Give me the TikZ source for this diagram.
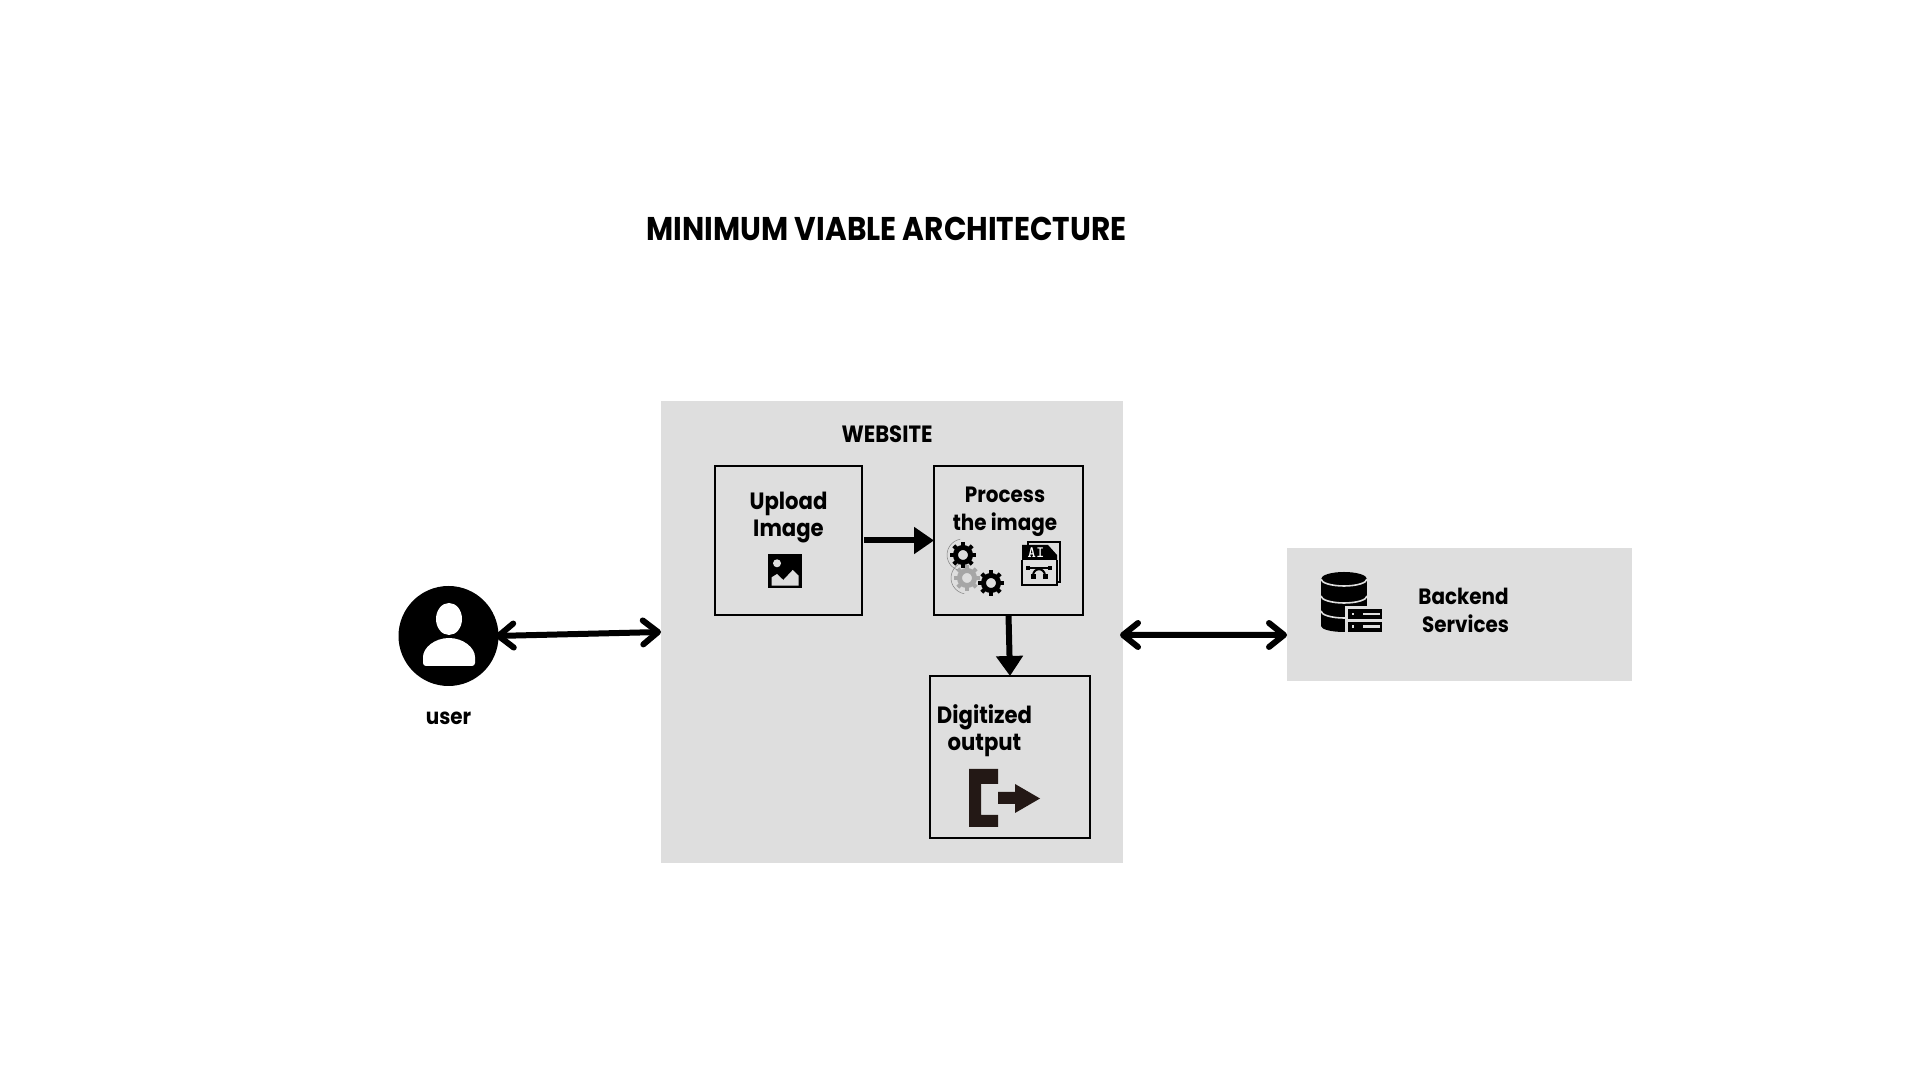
\documentclass[tikz,border=0pt]{standalone}
\usepackage{fontspec}
\setmainfont[FakeStretch=0.9]{Poppins}
\usetikzlibrary{arrows.meta}
\definecolor{panelgray}{HTML}{DEDEDE}
\definecolor{exitbrown}{HTML}{231815}
\newcommand{\gearwheel}[3][black]{%
\draw[#1,line width=0.05cm] (#2,#3) circle (0.075);
\foreach \a in {0,45,...,315}
\draw[#1,line width=0.04cm] (#2,#3) ++(\a:0.08) -- ++(\a:0.05);}
\tikzset{
panel/.style={fill=panelgray,inner sep=0pt,outer sep=0pt},
stepbox/.style={draw=black,line width=0.02cm,inner sep=0pt,outer sep=0pt},
lbl/.style={font=\bfseries\fontsize{6.3}{8}\selectfont,align=center,inner sep=0pt},
lblbig/.style={lbl,font=\bfseries\fontsize{6.7}{7.7}\selectfont},
flow/.style={line width=0.06cm,-{Triangle[length=2mm,width=2.6mm]}},
both/.style={line width=0.06cm,<->}
}
\begin{document}
\begin{tikzpicture}[>={Straight Barb[length=1.5mm,width=2.4mm,round]},line cap=butt]
\useasboundingbox (0,0) rectangle (19.2,10.8);
\node[panel,minimum width=4.62cm,minimum height=4.62cm] (website) at (8.92,4.48) {};
\node[panel,minimum width=3.45cm,minimum height=1.33cm] (backend) at (14.595,4.655) {};
\node[circle,fill=black,minimum size=1cm,inner sep=0pt,outer sep=0pt] (user) at (4.485,4.44) {};
\node[stepbox,minimum width=1.47cm,minimum height=1.49cm] (upload) at (7.885,5.395) {};
\node[stepbox,minimum width=1.49cm,minimum height=1.49cm] (process) at (10.085,5.395) {};
\node[stepbox,minimum width=1.60cm,minimum height=1.62cm] (digitized) at (10.10,3.23) {};
\node[font=\bfseries\fontsize{9.35}{11}\selectfont,inner sep=0pt] (title) at (8.866,8.51) {MINIMUM VIABLE ARCHITECTURE};
\node[lblbig] (websitetext) at (8.87,6.46) {WEBSITE};
\node[lblbig] (uploadtext) at (7.885,5.625) {Upload\\Image};
\node[lbl] (processtext) at (10.05,5.68) {Process\\the image};
\node[lblbig] (digitizedtext) at (9.845,3.495) {Digitized\\output};
\node[lbl] (backendtext) at (14.635,4.70) {Backend\\\hspace{0.04cm}Services};
\node[lbl] (usertext) at (4.485,3.62) {user};
\draw[both] ([xshift=-0.03cm]user.east) -- (website.west);
\draw[both] ([shift={(-0.03,-0.03)}]website.east) -- ([yshift=-0.205cm]backend.west);
\draw[flow] ([xshift=0.02cm]upload.east) -- (process.west);
\draw[flow] (process.south) -- (digitized.north);
\fill[white] (4.49,4.61) ellipse (0.13 and 0.16);
\fill[white,rounded corners=0.03cm] (4.23,4.14) -- (4.23,4.2) arc[start angle=180,end angle=0,x radius=0.26,y radius=0.22] -- (4.75,4.14) -- cycle;
\fill[black] (7.677,4.917) rectangle (8.017,5.26);
\fill[panelgray] (7.717,5.027) -- (7.77,5.06) -- (7.833,5.0) -- (7.927,5.1) -- (7.987,5.043) -- (7.987,4.943) -- (7.717,4.943) -- cycle;
\fill[panelgray] (7.77,5.167) circle (0.04);
\gearwheel{9.63}{5.25}
\gearwheel[gray!70]{9.67}{5.02}
\gearwheel{9.91}{4.97}
\draw[gray,line width=0.005cm] (9.63,5.25) ++(100:0.16) arc[start angle=100,end angle=250,radius=0.16];
\draw[gray,line width=0.005cm] (9.67,5.02) ++(120:0.16) arc[start angle=120,end angle=260,radius=0.16];
\draw[black,line width=0.015cm] (10.28,5.35) -- (10.28,5.38) -- (10.6,5.38) -- (10.6,4.98) -- (10.57,4.98);
\draw[black,line width=0.015cm] (10.22,5.2) -- (10.22,4.95) -- (10.57,4.95) -- (10.57,5.2);
\fill[black] (10.22,5.2) -- (10.22,5.35) -- (10.48,5.35) -- (10.57,5.25) -- (10.57,5.2) -- cycle;
\node[font=\ttfamily\bfseries\fontsize{4.5}{5}\selectfont,text=white,inner sep=0pt] (aitext) at (10.36,5.27) {AI};
\draw[black,line width=0.02cm] (10.28,5.12) -- (10.50,5.12);
\draw[black,line width=0.02cm] (10.33,5.04) .. controls (10.33,5.13) and (10.45,5.13) .. (10.45,5.04);
\fill[black] (10.26,5.10) rectangle (10.30,5.14);
\fill[black] (10.48,5.10) rectangle (10.52,5.14);
\fill[black] (10.305,5.01) rectangle (10.355,5.06);
\fill[black] (10.425,5.01) rectangle (10.475,5.06);
\fill[exitbrown] (9.69,2.53) -- (9.98,2.53) -- (9.98,2.65) -- (9.81,2.65) -- (9.81,2.96) -- (9.98,2.96) -- (9.98,3.11) -- (9.69,3.11) -- cycle;
\fill[exitbrown] (9.98,2.76) -- (10.15,2.76) -- (10.15,2.67) -- (10.40,2.815) -- (10.15,2.96) -- (10.15,2.88) -- (9.98,2.88) -- cycle;
\fill[black] (13.21,4.54) rectangle (13.67,5.01);
\fill[black] (13.44,5.01) ellipse (0.23 and 0.07);
\fill[black] (13.44,4.54) ellipse (0.23 and 0.06);
\draw[panelgray,line width=0.016cm] (13.21,5.01) arc[start angle=180,end angle=360,x radius=0.23,y radius=0.07];
\draw[panelgray,line width=0.016cm] (13.21,4.84) arc[start angle=180,end angle=360,x radius=0.23,y radius=0.07];
\draw[panelgray,line width=0.016cm] (13.21,4.69) arc[start angle=180,end angle=360,x radius=0.23,y radius=0.07];
\fill[panelgray] (13.45,4.46) rectangle (13.84,4.74);
\fill[black] (13.48,4.607) rectangle (13.82,4.707);
\fill[black] (13.48,4.483) rectangle (13.82,4.583);
\fill[panelgray] (13.63,4.645) rectangle (13.80,4.67);
\fill[panelgray] (13.63,4.52) rectangle (13.80,4.545);
\fill[panelgray] (13.52,4.645) rectangle (13.54,4.67);
\fill[panelgray] (13.52,4.52) rectangle (13.54,4.545);
\end{tikzpicture}
\end{document}
